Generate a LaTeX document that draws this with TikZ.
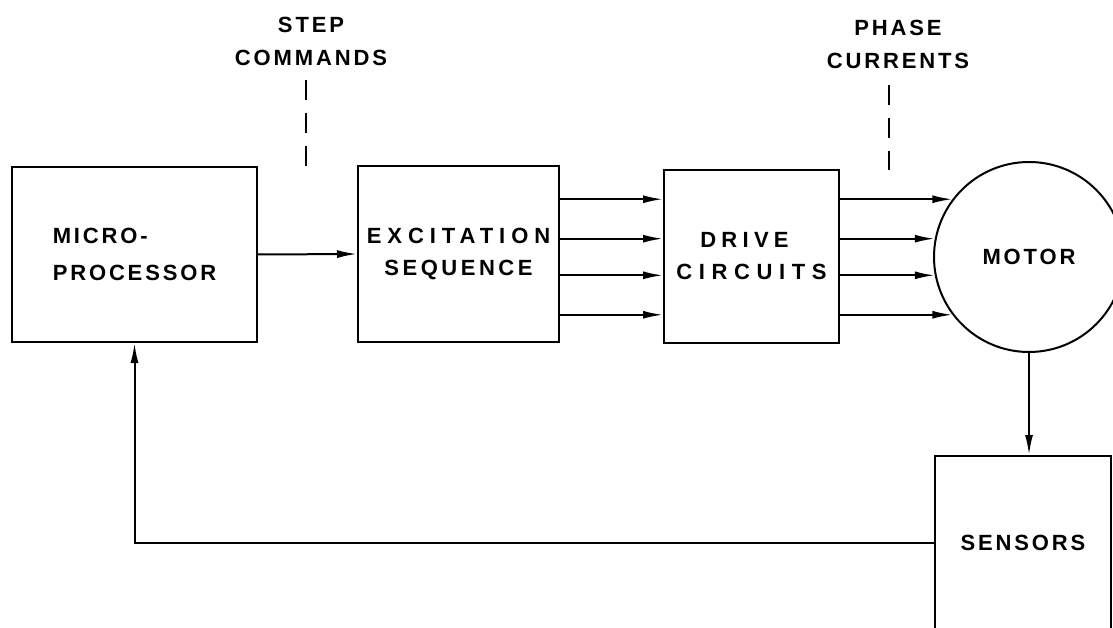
\documentclass[tikz,border=0pt]{standalone}
\usepackage{fontspec}
\setmainfont{Liberation Sans}[LetterSpace=13]
\usetikzlibrary{arrows.meta,calc}
\begin{document}
\begin{tikzpicture}[x=1pt,y=-1pt,
  line width=2pt,
  lbl/.style={font=\fontsize{22}{33}\selectfont\bfseries, inner sep=0pt, align=center},
  blk/.style={draw, rectangle, inner sep=0pt, font=\fontsize{22}{32}\selectfont\bfseries, align=center},
  arr/.style={-{Latex[length=20pt,width=8pt]}},
  dsh/.style={dash pattern=on 20pt off 13pt}
]
\useasboundingbox (0,0) rectangle (1113,628);
\clip (0,0) rectangle (1113,628);

\node[blk, minimum width=245pt, minimum height=175pt, align=left,
      font=\fontsize{22}{37}\selectfont\bfseries] (micro) at (134.5,254.5) {MICRO-\\PROCESSOR};
\node[blk, minimum width=201pt, minimum height=176pt] (exc) at (458.5,254) {{\addfontfeature{LetterSpace=27}EXCITATION}\\{\addfontfeature{LetterSpace=16}SEQUENCE}};
\node[blk, minimum width=175pt, minimum height=173pt] (drive) at (751.5,256.5) {{\addfontfeature{LetterSpace=24}DRIVE\hspace*{14pt}}\\{\addfontfeature{LetterSpace=30}CIRCUITS}};
\node[draw, circle, inner sep=0pt, minimum size=190pt, font=\fontsize{22}{32}\selectfont\bfseries] (motor) at (1029,257) {MOTOR};
\node[blk, minimum width=176pt, minimum height=174pt] (sens) at (1023,543) {SENSORS};

\node[lbl] (step) at (311,41) {STEP\\COMMANDS};
\node[lbl] (phase) at (898,44) {PHASE\\CURRENTS};

\coordinate (s1) at (306,80);
\coordinate (s2) at (306,172);
\coordinate (p1) at (889,85);
\coordinate (p2) at (889,170);
\draw[dsh] (s1) -- (s2);
\draw[dsh] (p1) -- (p2);

\draw[arr] (micro.east) -- (exc.west);
\foreach \a in {143,169,191,217}{
  \draw[arr] (exc.east |- motor.\a) -- (drive.west |- motor.\a);
  \draw[arr] (drive.east |- motor.\a) -- (motor.\a);
}
\draw[arr] (motor.south) -- (motor.south |- sens.north);
\draw[arr] (sens.west) -| (micro.south);
\end{tikzpicture}
\end{document}
